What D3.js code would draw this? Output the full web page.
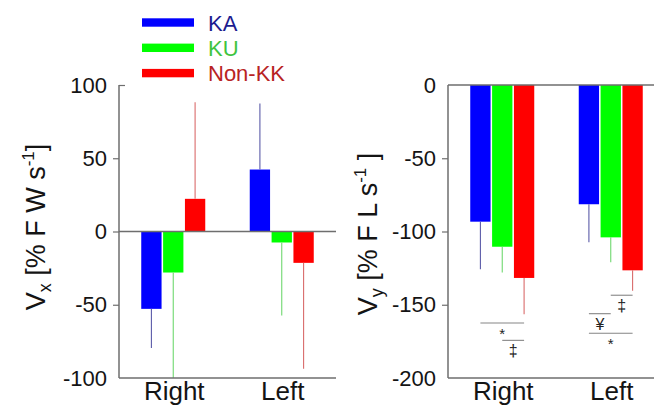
<!DOCTYPE html>
<html>
<head>
<meta charset="utf-8">
<script src="https://cdn.jsdelivr.net/npm/d3@7"></script>
<style>
  body { margin: 0; background: #fff; }
  svg { display: block; font-family: "Liberation Sans", Arial, sans-serif; }
</style>
</head>
<body>
<div id="chart"></div>
<script>
// data
const groups = ["Right", "Left"];
const series = ["KA", "KU", "Non-KK"];

// means and SDs, one row per series, one column per group
const vxMeans = [[-52.8, 42.3], [-28, -7.5], [22.3, -21.4]];
const vxSD = [[26.8, 45], [72, 49.8], [66, 72.3]];
const vyMeans = [[-93.3, -81.4], [-110.4, -104], [-131.7, -126.5]];
const vySD = [[32.5, 26], [17.6, 17], [24.8, 13.9]];

const vxTicks = [-100, -50, 0, 50, 100];
const vyTicks = [-200, -150, -100, -50, 0];

// significance marks in the Vy panel
const vySig = [
    {group: "Right", from: "KA", to: "Non-KK", y: -162.5, mark: "*"},
    {group: "Right", from: "KU", to: "Non-KK", y: -174.3, mark: "\u2021"},
    {group: "Left", from: "KU", to: "Non-KK", y: -143.5, mark: "\u2021"},
    {group: "Left", from: "KA", to: "KU", y: -156.1, mark: "\u00a5"},
    {group: "Left", from: "KA", to: "Non-KK", y: -169.5, mark: "*"}
];

const barColors = ["#0000ff", "#00ff00", "#ff0000"];
const errColors = ["#5b5ba8", "#6fd86f", "#d96b6b"];
const legendText = ["#1c1c8f", "#3fc43f", "#b82323"];
const axisColor = "#6e6e6e";

const W = 654, H = 405;
const svg = d3.select("#chart").append("svg")
    .attr("width", W).attr("height", H);

const plotTop = 85, plotBottom = 378;

function drawPanel(opt) {
    const y = d3.scaleLinear().domain(opt.domain).range([plotBottom, plotTop]).clamp(true);
    const x0 = d3.scaleBand().domain(groups).range(opt.xRange);
    const x1 = d3.scaleBand().domain(series).range([-32, 32]).paddingInner(0.07);
    const g = svg.append("g");

    // bars + error lines
    series.forEach((s, i) => {
        groups.forEach((grp, j) => {
            const m = opt.means[i][j];
            const sd = opt.sd[i][j];
            const bx = x0(grp) + x0.bandwidth() / 2 + x1(s);
            g.append("rect")
                .attr("x", bx)
                .attr("width", x1.bandwidth())
                .attr("y", Math.min(y(m), y(0)))
                .attr("height", Math.abs(y(m) - y(0)))
                .attr("fill", barColors[i]);
            const cx = bx + x1.bandwidth() / 2;
            const end = m + Math.sign(m) * sd;
            g.append("line")
                .attr("x1", cx).attr("x2", cx)
                .attr("y1", y(m)).attr("y2", y(end))
                .attr("stroke", errColors[i])
                .attr("stroke-width", 1.1);
        });
    });

    // frame lines
    const xa = opt.xRange[0], xb = opt.xRange[1];
    g.append("line").attr("x1", xa).attr("x2", xb)
        .attr("y1", y(0)).attr("y2", y(0))
        .attr("stroke", axisColor).attr("stroke-width", 1.5);
    g.append("line").attr("x1", xa).attr("x2", xb)
        .attr("y1", plotBottom).attr("y2", plotBottom)
        .attr("stroke", axisColor).attr("stroke-width", 1.5);

    // y axis
    const ax = g.append("g")
        .attr("transform", `translate(${xa},0)`)
        .call(d3.axisLeft(y).tickValues(opt.ticks).tickSize(6).tickPadding(6)
            .tickFormat(d => String(d)));
    ax.select(".domain").remove();
    ax.append("line").attr("y1", plotTop).attr("y2", plotBottom)
        .attr("stroke", axisColor).attr("stroke-width", 1.5);
    ax.selectAll(".tick line")
        .attr("stroke", axisColor).attr("stroke-width", 1.2)
        .attr("x2", d => {
            if (d === opt.domain[0]) return 0;
            if (d === opt.domain[1]) return opt.topTickIn ? 6 : 0;
            return -6;
        });
    ax.selectAll(".tick text")
        .attr("fill", "#141414")
        .style("font-size", "22px")
        .style("font-family", "'Liberation Sans', Arial, sans-serif");

    // category labels (cut by the bottom edge, as in the original)
    g.selectAll(".cat").data(groups).join("text")
        .attr("x", d => x0(d) + x0.bandwidth() / 2 + 1)
        .attr("y", 400)
        .attr("text-anchor", "middle")
        .attr("fill", "#141414")
        .style("font-size", "26px")
        .text(d => d);

    // y title
    const t = g.append("text")
        .attr("transform", `translate(${opt.titleX},${opt.titleY}) rotate(-90)`)
        .attr("text-anchor", "middle")
        .attr("fill", "#141414")
        .style("font-size", "27px");
    t.append("tspan").text("V");
    t.append("tspan").attr("dy", 6).style("font-size", "18px").text(opt.sub);
    t.append("tspan").attr("dy", -6).text(opt.unit);
    t.append("tspan").attr("dy", -11).style("font-size", "17px").text("-1");
    t.append("tspan").attr("dy", 11).text(opt.close);

    return {x0, x1, y, g};
}

drawPanel({
    domain: [-100, 100], ticks: vxTicks, means: vxMeans, sd: vxSD,
    xRange: [119, 336], topTickIn: true,
    titleX: 45, titleY: 227, sub: "x", unit: " [% F W s", close: "]"
});

const right = drawPanel({
    domain: [-200, 0], ticks: vyTicks, means: vyMeans, sd: vySD,
    xRange: [448, 665], topTickIn: false,
    titleX: 377, titleY: 234, sub: "y", unit: " [% F L s", close: " ]"
});

// significance lines
vySig.forEach(s => {
    const c = right.x0(s.group) + right.x0.bandwidth() / 2 + right.x1.bandwidth() / 2;
    const xa = c + right.x1(s.from), xb = c + right.x1(s.to);
    const yy = right.y(s.y);
    right.g.append("line")
        .attr("x1", xa).attr("x2", xb).attr("y1", yy).attr("y2", yy)
        .attr("stroke", "#858585").attr("stroke-width", 1.1);
    right.g.append("text")
        .attr("x", (xa + xb) / 2)
        .attr("y", yy + 16)
        .attr("text-anchor", "middle")
        .attr("fill", "#222")
        .style("font-size", s.mark === "*" ? "15px" : "16px")
        .text(s.mark);
});

// legend
const lg = svg.append("g").attr("transform", "translate(142,22.5)");
series.forEach((s, i) => {
    const row = lg.append("g").attr("transform", `translate(0,${i * 25.3})`);
    row.append("rect").attr("x", 0).attr("y", -4.2).attr("width", 52).attr("height", 8.4)
        .attr("fill", barColors[i]);
    row.append("text").attr("x", 66).attr("y", 8)
        .attr("fill", legendText[i])
        .style("font-size", "22px")
        .text(s);
});
</script>
</body>
</html>
